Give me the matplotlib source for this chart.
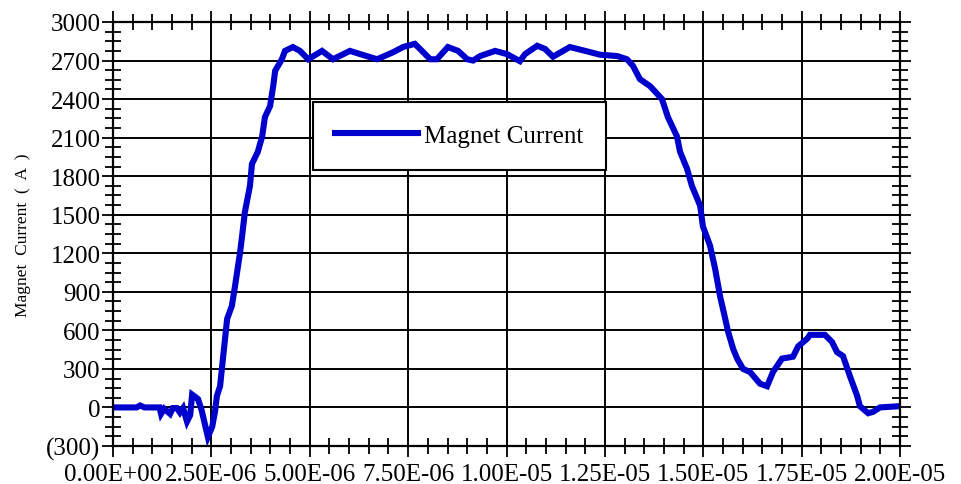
import numpy as np
import matplotlib
matplotlib.use('Agg')
import matplotlib.pyplot as plt
from matplotlib.ticker import MultipleLocator, AutoMinorLocator, FuncFormatter

plt.rcParams['font.family'] = ['Liberation Serif', 'DejaVu Serif']

# time in microseconds, current in amps
time_us = [0, 0.6, 0.69, 0.8, 1.18, 1.22, 1.30, 1.45, 1.52, 1.62, 1.70, 1.78,
           1.88, 1.96, 2.01, 2.10, 2.16, 2.25, 2.41, 2.52, 2.59, 2.64, 2.72,
           2.80, 2.90, 3.02, 3.10, 3.23, 3.28, 3.35, 3.48, 3.53, 3.68, 3.79,
           3.86, 3.99, 4.07, 4.12, 4.29, 4.37, 4.57, 4.75, 4.96, 5.31, 5.59,
           6.02, 6.28, 6.71, 7.12, 7.37, 7.67, 7.85, 8.06, 8.23, 8.51, 8.77,
           9.00, 9.15, 9.33, 9.71, 10.01, 10.34, 10.47, 10.78, 10.98, 11.18,
           11.61, 12.00, 12.38, 12.81, 13.06, 13.21, 13.39, 13.65, 13.95,
           14.10, 14.33, 14.41, 14.59, 14.71, 14.92, 14.99, 15.17, 15.30,
           15.43, 15.55, 15.63, 15.76, 15.86, 16.01, 16.19, 16.44, 16.62,
           16.77, 17.00, 17.28, 17.41, 17.64, 17.71, 18.09, 18.27, 18.40,
           18.55, 18.73, 18.91, 18.98, 19.19, 19.31, 19.49, 20.0]
current = [0, 0, 15, 0, 0, -50, -10, -50, -5, -5, -40, -5,
           -110, -60, 100, 80, 65, -20, -230, -150, -35, 90, 165,
           400, 690, 790, 945, 1210, 1335, 1520, 1725, 1895, 1990, 2110,
           2260, 2345, 2500, 2620, 2710, 2775, 2805, 2775, 2710, 2775, 2710,
           2775, 2750, 2710, 2765, 2805, 2830, 2775, 2710, 2710, 2805, 2775,
           2710, 2700, 2735, 2775, 2750, 2695, 2750, 2815, 2790, 2730,
           2805, 2775, 2745, 2735, 2710, 2660, 2555, 2500, 2400,
           2260, 2110, 1990, 1855, 1725, 1570, 1410, 1260, 1080,
           860, 700, 590, 455, 380, 300, 275, 185, 165,
           275, 380, 395, 475, 535, 565, 565, 510, 430,
           400, 240, 90, 10, -45, -35, 0, 10]

t = np.array(time_us) * 1e-6

fig = plt.figure(figsize=(9.62, 4.85), dpi=100)
ax = fig.add_axes([0.1175, 0.0784, 0.8181, 0.8742])

ax.plot(t, current, color='#0000cc', lw=4.4, label='Magnet Current',
        solid_capstyle='projecting', solid_joinstyle='miter')

ax.set_xlim(0, 2e-5)
ax.set_ylim(-300, 3000)
ax.xaxis.set_major_locator(MultipleLocator(2.5e-6))
ax.xaxis.set_minor_locator(AutoMinorLocator(5))
ax.yaxis.set_major_locator(MultipleLocator(300))
ax.yaxis.set_minor_locator(AutoMinorLocator(4))
ax.xaxis.set_major_formatter(FuncFormatter(lambda v, p: '{:.2E}'.format(v)))
ax.yaxis.set_major_formatter(FuncFormatter(
    lambda v, p: '(%d)' % abs(round(v)) if v < 0 else '%d' % round(v)))

ax.grid(True, which='major', color='black', lw=1.4)
for s in ax.spines.values():
    s.set_linewidth(1.6)
ax.tick_params(which='major', direction='out', length=8, width=1.3,
               labelsize=18, pad=1, top=True, right=True)
ax.tick_params(axis='x', which='major', pad=4)
ax.tick_params(which='minor', direction='inout', length=11, width=1.3,
               top=True, right=True)
ax.set_ylabel('Magnet  Current  (  A  )', fontsize=12.5, labelpad=11)

leg = ax.legend(loc='upper left', bbox_to_anchor=(313 / 962, 1 - 103 / 485),
                bbox_transform=fig.transFigure, fontsize=18, fancybox=False,
                edgecolor='black', framealpha=1, handlelength=3.3,
                handletextpad=0.25, borderpad=0.9, borderaxespad=0)
leg.get_frame().set_linewidth(1.5)

fig.savefig('out.png', dpi=100)
